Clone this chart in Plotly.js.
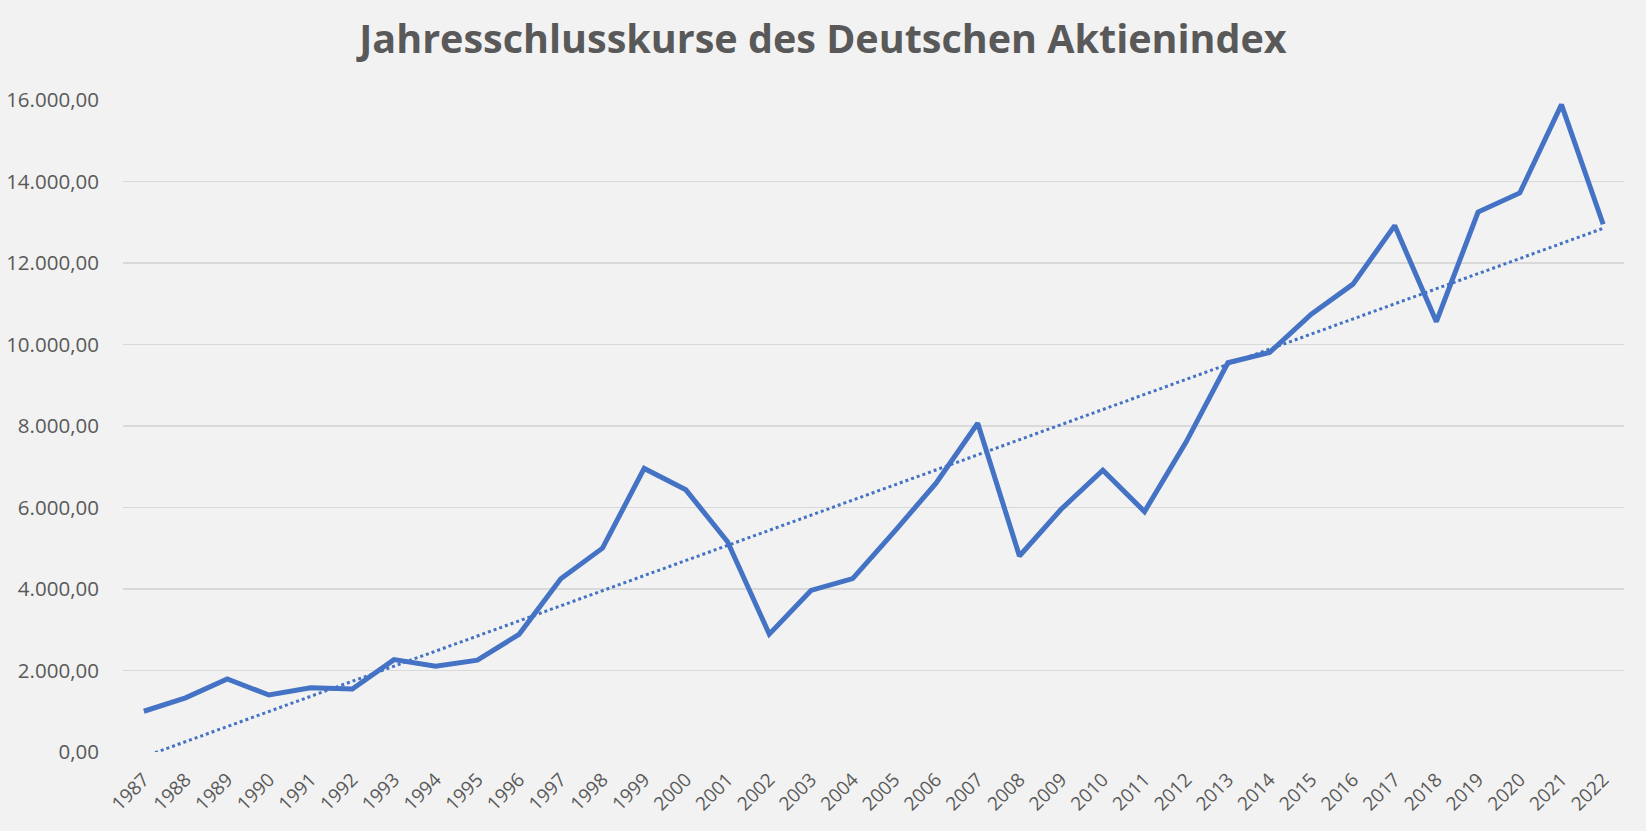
<!DOCTYPE html>
<html>
<head>
<meta charset="utf-8">
<script src="https://cdn.plot.ly/plotly-3.0.1.min.js"></script>
<style>
  html, body { margin: 0; padding: 0; background: #f2f2f2; }
  #chart { width: 1646px; height: 831px; }
</style>
</head>
<body>
<div id="chart"></div>
<script>
// Years (category labels)
const years = ["1987","1988","1989","1990","1991","1992","1993","1994","1995","1996",
  "1997","1998","1999","2000","2001","2002","2003","2004","2005","2006",
  "2007","2008","2009","2010","2011","2012","2013","2014","2015","2016",
  "2017","2018","2019","2020","2021","2022"];

// Year-end closing values of the DAX
const closingValues = [1000.00, 1327.87, 1790.37, 1398.23, 1577.98, 1545.05, 2266.68, 2106.58, 2253.88, 2888.69,
  4249.69, 5002.39, 6958.14, 6433.61, 5160.10, 2892.63, 3965.16, 4256.08, 5408.26, 6596.92,
  8067.32, 4810.20, 5957.43, 6914.19, 5898.35, 7612.39, 9552.16, 9805.55, 10743.01, 11481.06,
  12917.64, 10558.96, 13249.01, 13718.78, 15884.86, 12950.00];

const yTicks = [0, 2000, 4000, 6000, 8000, 10000, 12000, 14000, 16000];

// Linear trendline (least squares over the category index, as Excel does)
const n = closingValues.length;
const idx = closingValues.map((_, i) => i + 1);
const mx = idx.reduce((a, b) => a + b, 0) / n;
const my = closingValues.reduce((a, b) => a + b, 0) / n;
let sxy = 0, sxx = 0;
for (let i = 0; i < n; i++) { sxy += (idx[i] - mx) * (closingValues[i] - my); sxx += (idx[i] - mx) ** 2; }
const slope = sxy / sxx;
const intercept = my - slope * mx;
const trend = idx.map(x => intercept + slope * x);

const blue = "#4472C4";
const textGrey = "#595959";

const traces = [
  {
    x: years, y: trend, type: "scatter", mode: "lines",
    line: { color: blue, width: 3, dash: "dot" },
    hoverinfo: "skip", showlegend: false
  },
  {
    x: years, y: closingValues, type: "scatter", mode: "lines",
    line: { color: blue, width: 5, shape: "linear" },
    showlegend: false
  }
];

const layout = {
  width: 1646, height: 831,
  paper_bgcolor: "#f2f2f2", plot_bgcolor: "#f2f2f2",
  separators: ",.",
  margin: { l: 123, r: 22, t: 100, b: 79, autoexpand: false },
  title: {
    text: "Jahresschlusskurse des Deutschen Aktienindex",
    font: { family: "Open Sans", size: 39.5, color: textGrey, weight: 700 },
    x: 0.5, xanchor: "center", y: 0.953, yanchor: "middle"
  },
  xaxis: {
    type: "category",
    tickvals: years, ticktext: years,
    tickangle: -45,
    tickfont: { family: "Open Sans", size: 19, color: textGrey },
    ticks: "outside", ticklen: 8, tickcolor: "rgba(0,0,0,0)",
    showgrid: false, zeroline: false, showline: false,
    range: [-0.5, n - 0.5], automargin: false
  },
  yaxis: {
    range: [0, 16000],
    tickvals: yTicks,
    tickformat: ",.2f",
    tickfont: { family: "Open Sans", size: 20.5, color: textGrey },
    ticks: "outside", ticklen: 19, tickcolor: "rgba(0,0,0,0)",
    showgrid: true, gridcolor: "#d9d9d9", gridwidth: 1.5,
    zeroline: false, showline: false, automargin: false
  }
};

Plotly.newPlot("chart", traces, layout, { displayModeBar: false, staticPlot: true });
</script>
</body>
</html>
